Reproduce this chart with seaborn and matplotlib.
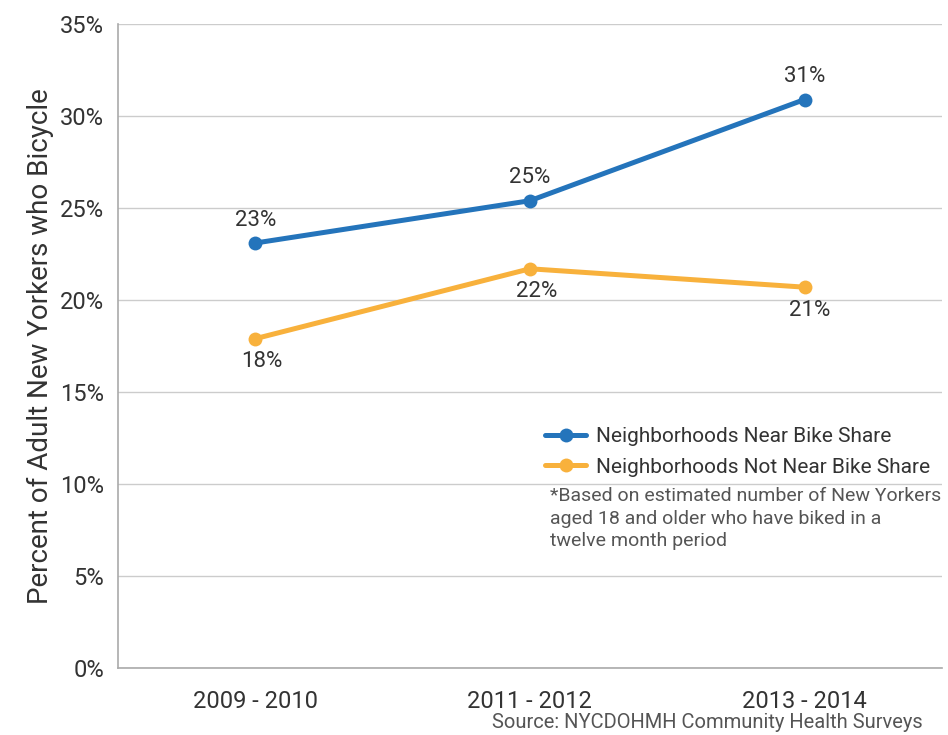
import seaborn as sns
import matplotlib.pyplot as plt
import pandas as pd

periods = ['2009 - 2010', '2011 - 2012', '2013 - 2014']
near_share = [23.1, 25.4, 30.9]
not_near_share = [17.9, 21.7, 20.7]
near_labels = ['23%', '25%', '31%']
not_near_labels = ['18%', '22%', '21%']
series_names = ['Neighborhoods Near Bike Share', 'Neighborhoods Not Near Bike Share']

df = pd.DataFrame({
    'Period': periods * 2,
    'Pct': near_share + not_near_share,
    'Group': [series_names[0]] * 3 + [series_names[1]] * 3,
})

sns.set_style('white')
plt.rcParams['font.family'] = ['Roboto', 'DejaVu Sans']

blue = '#2474bb'
orange = '#f8b13c'

fig = plt.figure(figsize=(9.48, 7.35), dpi=100)
ax = fig.add_axes([0.1245, 0.0912, 0.869, 0.876])

sns.lineplot(data=df, x='Period', y='Pct', hue='Group', palette=[blue, orange],
             marker='o', markersize=10, markeredgewidth=0, linewidth=3.6, ax=ax)

ax.set_xlim(-0.5, 2.5)
ax.set_ylim(0, 35)
ax.set_yticks(range(0, 36, 5))
ax.set_yticklabels([f'{v}%' for v in range(0, 36, 5)], fontsize=17, color='#333333')
ax.yaxis.grid(True, color='#cccccc', linewidth=1)
ax.set_axisbelow(True)

# category labels in the middle, tick marks on the boundaries
ax.set_xticks([0, 1, 2])
ax.set_xticklabels(periods, fontsize=17, color='#333333')
ax.set_xticks([-0.5, 0.5, 1.5, 2.5], minor=True)
ax.tick_params(axis='x', which='major', length=0, pad=16)
ax.tick_params(axis='x', which='minor', length=7, color='#aaaaaa', width=1)
ax.tick_params(axis='y', length=7, color='#aaaaaa', width=1, pad=3)

for s in ['top', 'right']:
    ax.spines[s].set_visible(False)
for s in ['left', 'bottom']:
    ax.spines[s].set_color('#aaaaaa')
    ax.spines[s].set_linewidth(1.2)

ax.set_xlabel('')
ax.set_ylabel('Percent of Adult New Yorkers who Bicycle', fontsize=20, color='#333333', labelpad=4)

for i, (v, lab) in enumerate(zip(near_share, near_labels)):
    ax.annotate(lab, (i, v), xytext=(0, 9), textcoords='offset points',
                ha='center', va='bottom', fontsize=16, color='#333333')
not_near_dx = [5, 5, 4]
for i, (v, lab) in enumerate(zip(not_near_share, not_near_labels)):
    ax.annotate(lab, (i, v), xytext=(not_near_dx[i], -9), textcoords='offset points',
                ha='center', va='top', fontsize=16, color='#333333')

leg = ax.legend(loc='upper left', bbox_to_anchor=(0.518, 0.374), frameon=False,
                fontsize=15, handlelength=2.0, handletextpad=0.45, labelspacing=0.55,
                borderaxespad=0, borderpad=0)
for t in leg.get_texts():
    t.set_color('#333333')

fig.text(0.58, 0.337, '*Based on estimated number of New Yorkers\naged 18 and older who have biked in a\ntwelve month period',
         fontsize=14, color='#555555', ha='left', va='top', linespacing=1.3)
fig.text(0.973, 0.004, 'Source: NYCDOHMH Community Health Surveys',
         fontsize=14.5, color='#555555', ha='right', va='bottom')

fig.savefig('out.png', dpi=100)
